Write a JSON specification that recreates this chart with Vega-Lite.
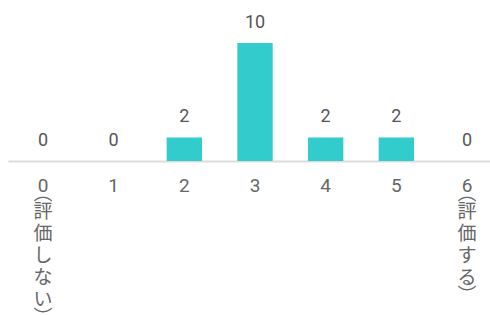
{
  "$schema": "https://vega.github.io/schema/vega-lite/v6.json",
  "autosize": "none",
  "width": 494,
  "height": 118,
  "padding": {"left": 8, "top": 43, "right": 0, "bottom": 160},
  "background": "white",
  "config": {
    "view": {"stroke": null},
    "font": "Roboto, 'Noto Sans CJK JP', sans-serif"
  },
  "data": {
    "values": [
      {"label": "0(評価しない)", "count": 0},
      {"label": "1", "count": 0},
      {"label": "2", "count": 2},
      {"label": "3", "count": 10},
      {"label": "4", "count": 2},
      {"label": "5", "count": 2},
      {"label": "6(評価する)", "count": 0}
    ]
  },
  "encoding": {
    "x": {
      "field": "label",
      "type": "nominal",
      "sort": null,
      "scale": {"paddingInner": 0.5, "paddingOuter": 0.245},
      "axis": {
        "title": null,
        "ticks": false,
        "labelAngle": 0,
        "labelBaseline": "top",
        "labelPadding": 15,
        "labelFontSize": 19,
        "labelColor": "#666666",
        "labelLineHeight": 4.4,
        "labelOverlap": false,
        "labelBound": false,
        "labelFlush": false,
        "labelExpr": "datum.label == '0(評価しない)' ? ['0','\u2800','︵','\u2800','\u2800','\u2800','評','\u2800','\u2800','\u2800','\u2800','価','\u2800','\u2800','\u2800','\u2800','し','\u2800','\u2800','\u2800','\u2800','な','\u2800','\u2800','\u2800','\u2800','い','\u2800','\u2800','\u2800','︶'] : datum.label == '6(評価する)' ? ['6','\u2800','︵','\u2800','\u2800','\u2800','評','\u2800','\u2800','\u2800','\u2800','価','\u2800','\u2800','\u2800','\u2800','す','\u2800','\u2800','\u2800','\u2800','る','\u2800','\u2800','\u2800','︶'] : datum.label",
        "domainColor": "#dcdcdc",
        "domainWidth": 2
      }
    },
    "y": {
      "field": "count",
      "type": "quantitative",
      "scale": {"domain": [0, 10], "nice": false},
      "axis": null
    }
  },
  "layer": [
    {"mark": {"type": "bar", "color": "#33cccc"}},
    {
      "mark": {"type": "text", "dy": -15, "baseline": "alphabetic", "fontSize": 18, "color": "#555555"},
      "encoding": {"text": {"field": "count", "type": "quantitative"}}
    }
  ]
}
